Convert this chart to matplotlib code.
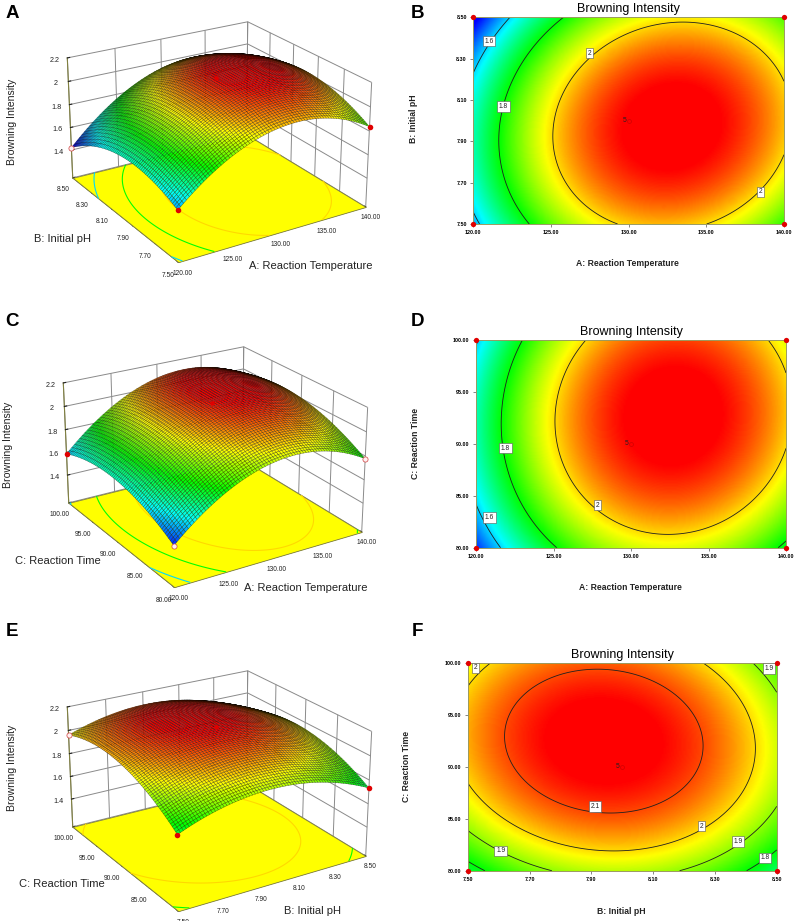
import numpy as np
import matplotlib
matplotlib.use('Agg')
import matplotlib.pyplot as plt
from matplotlib.colors import LinearSegmentedColormap, Normalize
from mpl_toolkits.mplot3d import Axes3D  # noqa
from mpl_toolkits.mplot3d.art3d import Poly3DCollection
from numpy.polynomial import polynomial as P

plt.rcParams['font.family'] = ['Liberation Sans', 'DejaVu Sans']

W, H = 797, 921

# factor levels (tick positions of the originals)
temp_levels = [120, 125, 130, 135, 140]
ph_levels = [7.5, 7.7, 7.9, 8.1, 8.3, 8.5]
time_levels = [80, 85, 90, 95, 100]

# Browning intensity estimated at the tick crossings, from contours and surfaces.
# rows follow the y factor, columns the x factor
temp_ph = [
    [1.570, 1.868, 2.011, 2.000, 1.836],
    [1.654, 1.959, 2.111, 2.109, 1.953],
    [1.680, 1.994, 2.154, 2.160, 2.013],
    [1.650, 1.972, 2.141, 2.156, 2.017],
    [1.564, 1.895, 2.071, 2.095, 1.964],
    [1.421, 1.760, 1.945, 1.976, 1.854],
]
temp_time = [
    [1.487, 1.791, 1.940, 1.936, 1.777],
    [1.616, 1.925, 2.078, 2.079, 1.925],
    [1.676, 1.989, 2.148, 2.153, 2.004],
    [1.667, 1.985, 2.148, 2.158, 2.014],
    [1.588, 1.911, 2.079, 2.094, 1.954],
]
ph_time = [
    [1.764, 1.875, 1.927, 1.920, 1.856, 1.733],
    [1.931, 2.037, 2.084, 2.074, 2.004, 1.877],
    [2.019, 2.121, 2.164, 2.148, 2.075, 1.943],
    [2.029, 2.126, 2.164, 2.145, 2.067, 1.930],
    [1.960, 2.053, 2.087, 2.063, 1.980, 1.840],
]
centre_value = 2.13
z_ticks = [1.4, 1.6, 1.8, 2.0, 2.2]
z_labels = ['1.4', '1.6', '1.8', '2', '2.2']

temp_name = 'A: Reaction Temperature'
ph_name = 'B: Initial pH'
time_name = 'C: Reaction Time'
z_name = 'Browning Intensity'

labels_b = [('1.6', 121.0, 8.384), ('1.8', 121.93, 8.068), ('2', 127.47, 8.326), ('2', 138.47, 7.656)]
labels_d = [('1.8', 121.9, 89.6), ('1.6', 120.86, 82.9), ('2', 127.83, 84.1)]
labels_f = [('2', 7.525, 99.55), ('1.9', 8.475, 99.5), ('2.1', 7.911, 86.2), ('2', 8.255, 84.3),
            ('1.9', 8.374, 82.8), ('1.8', 8.462, 81.25), ('1.9', 7.606, 81.9)]

# which visible corner design points are drawn pale (below the surface) in each 3D panel
pale_a = ['left']
pale_c = ['front', 'right']
pale_e = ['left']

cmap = LinearSegmentedColormap.from_list('de', ['#0000ff', '#00ffff', '#00ff00', '#ffff00', '#ff0000'])
norm = Normalize(1.45, 2.15)
RED = '#e00000'


def smooth(xs, ys, zs, n=71):
    # least-squares second-order surface through the read grid, only to draw it smoothly
    xs, ys, zs = np.array(xs, float), np.array(ys, float), np.array(zs, float)
    xu = (xs - xs.mean()) / np.ptp(xs)
    yu = (ys - ys.mean()) / np.ptp(ys)
    GX, GY = np.meshgrid(xu, yu)
    V = P.polyvander2d(GX.ravel(), GY.ravel(), [2, 2])
    c = np.linalg.lstsq(V, zs.ravel(), rcond=None)[0].reshape(3, 3)
    DX, DY = np.meshgrid(np.linspace(xs[0], xs[-1], n), np.linspace(ys[0], ys[-1], n))
    Z = P.polyval2d((DX - xs.mean()) / np.ptp(xs), (DY - ys.mean()) / np.ptp(ys), c)
    return DX, DY, Z


def ftext(px, py, s, **kw):
    kw.setdefault('ha', 'center')
    kw.setdefault('va', 'center')
    fig.text(px / W, 1 - py / H, s, **kw)


def surface(rect, xs, ys, zs, cx, cy, pale, zoom=0.9, focal=0.7):
    ax = fig.add_axes([rect[0] / W, 1 - (rect[1] + rect[3]) / H, rect[2] / W, rect[3] / H], projection='3d')
    ax.patch.set_alpha(0)
    ax.computed_zorder = False
    ax.set_proj_type('persp', focal_length=focal)
    ax.view_init(elev=23, azim=-122)
    ax.set_box_aspect((620, 620, 380), zoom=zoom)
    ax.set_xlim(xs[0], xs[-1]); ax.set_ylim(ys[0], ys[-1]); ax.set_zlim(1.15, 2.2)
    X, Y, Z = smooth(xs, ys, zs)
    floor = [[(xs[0], ys[0], 1.15), (xs[-1], ys[0], 1.15), (xs[-1], ys[-1], 1.15), (xs[0], ys[-1], 1.15)]]
    ax.add_collection3d(Poly3DCollection(floor, facecolor=(1, 1, 0), edgecolor='#808040', linewidth=0.6, zorder=0.5))
    ax.contour(X, Y, Z, levels=[1.6, 1.8, 2.0], zdir='z', offset=1.15, cmap=cmap, norm=norm,
               linewidths=0.8, zorder=1)
    ax.plot_surface(X, Y, Z, rstride=1, cstride=1, facecolors=cmap(norm(Z)), shade=False,
                    edgecolor=(0, 0, 0, 0.55), linewidth=0.3, antialiased=True, zorder=2)
    grid = np.array(zs)
    corners = {'front': (xs[0], ys[0], grid[0, 0]), 'right': (xs[-1], ys[0], grid[0, -1]),
               'left': (xs[0], ys[-1], grid[-1, 0])}
    for name, (px, py, pz) in corners.items():
        if name in pale:
            ax.scatter([px], [py], [pz], facecolor='#fff0f0', edgecolor='#d04040', s=14, depthshade=False,
                       zorder=5, linewidths=0.5)
        else:
            ax.scatter([px], [py], [pz], color=RED, s=16, depthshade=False, zorder=5, linewidths=0)
    ax.scatter([cx], [cy], [centre_value], color=RED, s=10, depthshade=False, zorder=5, linewidths=0)
    ax.set_xticks(xs); ax.set_yticks(ys); ax.set_zticks(z_ticks)
    ax.set_xticklabels(['%.2f' % v for v in xs], fontsize=4.8)
    ax.set_yticklabels(['%.2f' % v for v in ys], fontsize=4.8)
    ax.set_zticklabels(z_labels, fontsize=5.2)
    ax.tick_params(axis='x', pad=-3, colors='#222222')
    ax.tick_params(axis='y', pad=-1, colors='#222222')
    ax.tick_params(axis='z', pad=-2, colors='#222222')
    for a in (ax.xaxis, ax.yaxis, ax.zaxis):
        a._axinfo['grid'].update(color='#8a8a8a', linewidth=0.7)
        a._axinfo['tick'].update(inward_factor=0.0, outward_factor=0.15)
        a.line.set_color('#808040')
        a.line.set_linewidth(0.8)
        a.pane.set_edgecolor('#8a8a8a')
        a.pane.set_linewidth(0.7)
    ax.xaxis.set_pane_color((1, 1, 1, 0))
    ax.yaxis.set_pane_color((1, 1, 1, 0))
    ax.zaxis.set_pane_color((1, 1, 0, 0))
    return ax


def contour(rect, xs, ys, zs, levels, labels, title, cx, cy):
    ax = fig.add_axes([rect[0] / W, 1 - rect[3] / H, (rect[2] - rect[0]) / W, (rect[3] - rect[1]) / H])
    X, Y, Z = smooth(xs, ys, zs, n=201)
    ax.imshow(Z, origin='lower', extent=[xs[0], xs[-1], ys[0], ys[-1]], aspect='auto', cmap=cmap, norm=norm,
              interpolation='bilinear', zorder=1)
    ax.contour(X, Y, Z, levels=levels, colors='#202020', linewidths=0.6, zorder=2)
    for s, lx, ly in labels:
        ax.text(lx, ly, s, fontsize=4.8, ha='center', va='center', zorder=3, color='#222222',
                bbox=dict(boxstyle='square,pad=0.25', fc='white', ec='#555555', lw=0.4))
    ax.plot([xs[0], xs[0], xs[-1], xs[-1]], [ys[0], ys[-1], ys[0], ys[-1]], 'o', color=RED, ms=3.8,
            mew=0, clip_on=False, zorder=5)
    ax.plot([cx], [cy], 'o', mfc='none', mec='#d00000', ms=2.8, mew=0.5, zorder=4)
    ax.annotate('5', (cx, cy), xytext=(-3.2, 0.3), textcoords='offset points', fontsize=4.8,
                ha='center', va='center', color='#222222', zorder=4)
    ax.set_xticks(xs); ax.set_yticks(ys)
    ax.set_xticklabels(['%.2f' % v for v in xs], fontsize=3.9, fontweight='bold')
    ax.set_yticklabels(['%.2f' % v for v in ys], fontsize=3.9, fontweight='bold')
    ax.tick_params(length=2.4, width=0.5, color='#555555', pad=2.2)
    for sp in ax.spines.values():
        sp.set_color('#9a9a60')
        sp.set_linewidth(0.7)
    ftext((rect[0] + rect[2]) / 2, rect[1] - 8, title, fontsize=9)
    return ax


fig = plt.figure(figsize=(W / 100, H / 100), dpi=100)

# 3D panels: rect = left, top, width, height in pixels
surface((1, -43, 420, 360), temp_levels, ph_levels, temp_ph, 130, 8.0, pale_a)
surface((-3, 282, 420, 360), temp_levels, time_levels, temp_time, 130, 90, pale_c)
surface((1, 606, 420, 360), ph_levels, time_levels, ph_time, 8.0, 90, pale_e)

contour((473.3, 17.3, 784, 224), temp_levels, ph_levels, temp_ph, [1.6, 1.8, 2.0], labels_b, z_name, 130, 8.0)
contour((476, 340, 786, 547.7), temp_levels, time_levels, temp_time, [1.6, 1.8, 2.0], labels_d, z_name, 130, 90)
contour((468, 663.3, 776.7, 870.7), ph_levels, time_levels, ph_time, [1.8, 1.9, 2.0, 2.1], labels_f, z_name, 8.0, 90)

# panel letters
for s, x, y in [('A', 12, 14), ('B', 417, 13), ('C', 12, 321), ('D', 417, 322), ('E', 12, 631), ('F', 417, 631)]:
    ftext(x, y, s, fontsize=13.5, fontweight='bold')

# 3D axis names
lab3 = dict(fontsize=8, color='#222222')
ftext(311, 266, temp_name, **lab3)
ftext(63, 239, ph_name, **lab3)
ftext(12, 122, z_name, rotation=90, fontsize=7.6, color='#222222')
ftext(306, 588, temp_name, **lab3)
ftext(58, 561, time_name, **lab3)
ftext(8, 445, z_name, rotation=90, fontsize=7.6, color='#222222')
ftext(312, 911, ph_name, **lab3)
ftext(62, 884, time_name, **lab3)
ftext(12, 768, z_name, rotation=90, fontsize=7.6, color='#222222')

# 2D axis names
lab2 = dict(fontsize=6.2, fontweight='bold', color='#222222')
ftext(627, 264, temp_name, **lab2)
ftext(413, 119, ph_name, rotation=90, **lab2)
ftext(630, 587, temp_name, **lab2)
ftext(416, 443, time_name, rotation=90, **lab2)
ftext(621, 911, ph_name, **lab2)
ftext(407, 766, time_name, rotation=90, **lab2)

fig.savefig('out.png', dpi=100)
